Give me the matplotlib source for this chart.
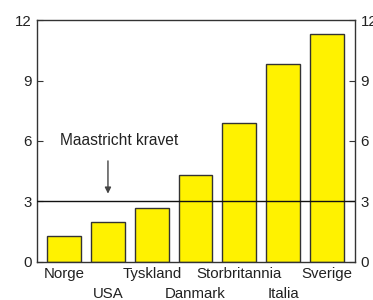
import matplotlib
matplotlib.use("Agg")
import matplotlib.pyplot as plt

countries = ["Norge", "USA", "Tyskland", "Danmark", "Storbritannia", "Italia", "Sverige"]
values = [1.3, 2.0, 2.7, 4.3, 6.9, 9.8, 11.3]
yticks = [0, 3, 6, 9, 12]
threshold = 3
label_text = "Maastricht kravet"

plt.rcParams['font.family'] = ['Liberation Sans', 'DejaVu Sans']
FS = 10.8

fig = plt.figure(figsize=(3.73, 3.0), dpi=100)
ax = fig.add_axes([0.0992, 0.1267, 0.8525, 0.8066])

x = list(range(len(countries)))
ax.bar(x, values, width=0.77, color="#FFF200", edgecolor="#333333", linewidth=1.0, zorder=2)
ax.axhline(threshold, color="#111111", linewidth=1.0, zorder=3)

ax.set_xlim(-0.62, 6.64)
ax.set_ylim(0, 12)
ax.set_yticks(yticks)
ax.set_yticklabels([str(v) for v in yticks])
ax.tick_params(axis='y', direction='in', length=4, labelsize=FS, left=True, right=True,
               labelleft=True, labelright=True, pad=4, color="#333333", labelcolor="#222222")

row1 = [i for i in x if i % 2 == 0]
row2 = [i for i in x if i % 2 == 1]
ax.set_xticks(row1)
ax.set_xticklabels([countries[i] for i in row1])
ax.set_xticks(row2, minor=True)
ax.set_xticklabels([countries[i] for i in row2], minor=True)
ax.tick_params(axis='x', which='major', length=0, labelsize=FS, pad=3.6, labelcolor="#222222")
ax.tick_params(axis='x', which='minor', length=0, labelsize=FS, pad=18, labelcolor="#222222")

for s in ax.spines.values():
    s.set_color("#333333")
    s.set_linewidth(1.0)

ax.text(1.25, 6.04, label_text, ha="center", va="center", fontsize=FS + 0.4, color="#222222")
ax.annotate("", xy=(1.0, 3.25), xytext=(1.0, 5.15),
            arrowprops=dict(arrowstyle="-|>", color="#444444", lw=1.0, mutation_scale=9))

fig.savefig("out.png", dpi=100, facecolor="white")
